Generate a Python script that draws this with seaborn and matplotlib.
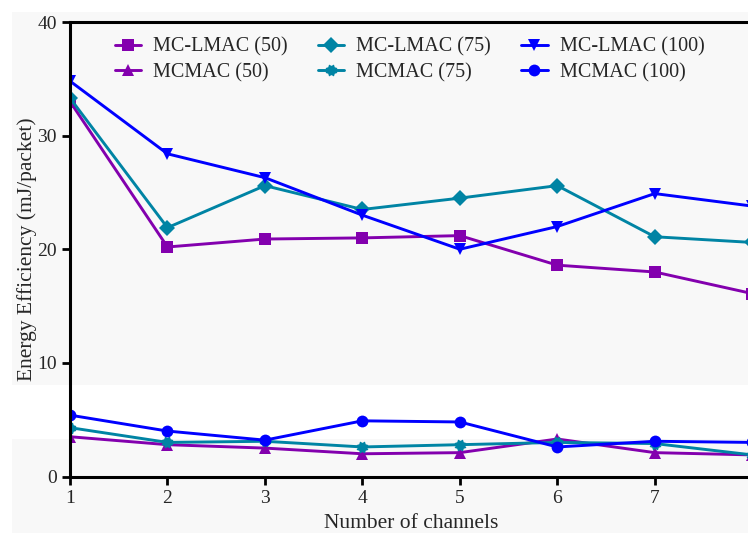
import matplotlib
matplotlib.use("Agg")
import matplotlib.pyplot as plt
import numpy as np
import pandas as pd
import seaborn as sns
from matplotlib.patches import Rectangle

channels = [1, 2, 3, 4, 5, 6, 7, 8]

mclmac_50 = [33.0, 20.2, 20.9, 21.0, 21.2, 18.6, 18.0, 16.1]
mclmac_75 = [33.3, 21.9, 25.6, 23.5, 24.5, 25.6, 21.1, 20.6]
mclmac_100 = [34.8, 28.4, 26.3, 23.0, 20.0, 22.0, 24.9, 23.8]
mcmac_50 = [3.5, 2.8, 2.5, 2.0, 2.1, 3.3, 2.1, 1.9]
mcmac_75 = [4.3, 3.0, 3.1, 2.6, 2.8, 3.0, 2.9, 1.9]
mcmac_100 = [5.4, 4.0, 3.2, 4.9, 4.8, 2.6, 3.1, 3.0]

series = {
    "MC-LMAC (50)": mclmac_50,
    "MCMAC (50)": mcmac_50,
    "MC-LMAC (75)": mclmac_75,
    "MCMAC (75)": mcmac_75,
    "MC-LMAC (100)": mclmac_100,
    "MCMAC (100)": mcmac_100,
}
order = list(series.keys())

purple = "#8300AE"
teal = "#0084A4"
blue = "#0000FF"
palette = {
    "MC-LMAC (50)": purple, "MCMAC (50)": purple,
    "MC-LMAC (75)": teal, "MCMAC (75)": teal,
    "MC-LMAC (100)": blue, "MCMAC (100)": blue,
}

# chunky 8-point star (cog-like) marker
ang = np.linspace(0, 2 * np.pi, 17)[:-1] + np.pi / 8
rad = np.where(np.arange(16) % 2 == 0, 1.0, 0.72)
cog = list(zip(rad * np.cos(ang), rad * np.sin(ang)))

markers = {
    "MC-LMAC (50)": "s", "MCMAC (50)": "^",
    "MC-LMAC (75)": "D", "MCMAC (75)": cog,
    "MC-LMAC (100)": "v", "MCMAC (100)": "o",
}

df = pd.DataFrame(
    [(name, x, y) for name, vals in series.items() for x, y in zip(channels, vals)],
    columns=["series", "channels", "value"],
)

sns.set_style("ticks")
plt.rcParams["font.family"] = ["Liberation Serif", "DejaVu Serif"]
plt.rcParams["font.size"] = 14

fig = plt.figure(figsize=(7.48, 5.33), dpi=100)
fig.patch.set_facecolor("white")
# light grey background bands of the source image
bg = "#F8F8F8"
fig.patches.append(Rectangle((0.016, 0.2777), 1.0, 0.70, transform=fig.transFigure,
                             facecolor=bg, edgecolor="none", zorder=-1))
fig.patches.append(Rectangle((0.016, 0.0), 1.0, 0.1764, transform=fig.transFigure,
                             facecolor=bg, edgecolor="none", zorder=-1))

ax = fig.add_axes([0.0936, 0.106, 0.912, 0.8527])
ax.set_facecolor("none")

sns.lineplot(
    data=df, x="channels", y="value", hue="series", style="series",
    hue_order=order, style_order=order, palette=palette, markers=markers,
    dashes=False, linewidth=2.1, markersize=8.5, markeredgewidth=0, ax=ax,
)

ax.set_xlim(1, 8)
ax.set_ylim(0, 40)
ax.set_xticks(channels[:-1])
ax.set_yticks([0, 10, 20, 30, 40])
ax.set_xlabel("Number of channels", fontsize=15.5, labelpad=5)
ax.set_ylabel("Energy Efficiency (mJ/packet)", fontsize=15.5, labelpad=0)
ax.tick_params(axis="both", labelsize=14, width=2, length=6, color="black")

for side in ["left", "bottom", "top"]:
    ax.spines[side].set_linewidth(2.2)
    ax.spines[side].set_color("black")
ax.spines["right"].set_visible(False)

handles, labels = ax.get_legend_handles_labels()
ax.legend(
    handles, labels, ncol=3, loc="upper left", bbox_to_anchor=(0.066, 0.966),
    frameon=False, fontsize=14.5, handlelength=1.3, handletextpad=0.6,
    columnspacing=1.5, labelspacing=0.3, borderpad=0, borderaxespad=0,
)

fig.savefig("out.png", dpi=100, facecolor="white")
